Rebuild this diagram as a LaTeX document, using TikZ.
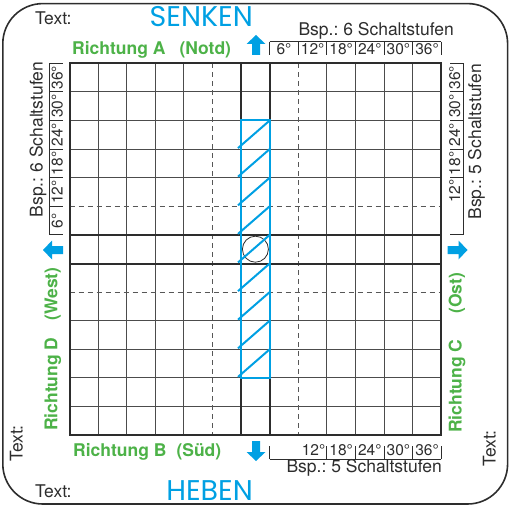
\documentclass[tikz,border=0pt]{standalone}
\usepackage{fontspec}
\setmainfont{TeX Gyre Heros}
\newfontfamily\roundfont{Poppins}
\definecolor{skyb}{RGB}{0,160,227}
\definecolor{grn}{RGB}{77,178,72}
\definecolor{ink}{RGB}{45,45,45}
\def\GX{69.5}
\def\GY{63.3}
\def\CW{28.6}
\frenchspacing
\tikzset{
  txt/.style={font=\fontsize{17.5}{20}\selectfont, text=ink, inner sep=0pt},
  dirlbl/.style={font=\fontsize{17.5}{20}\selectfont\bfseries, text=grn, inner sep=0pt},
  slbl/.style={font=\fontsize{15.5}{18}\selectfont, text=ink, inner sep=0pt},
  bigword/.style={font=\roundfont\fontsize{28.5}{31}\selectfont, text=skyb, inner sep=0pt},
  gthin/.style={draw=ink!85, line width=1pt},
  gthick/.style={draw=ink, line width=2pt},
  gdash/.style={draw=ink!80, line width=1pt, dash pattern=on 5pt off 4pt},
  hatch/.style={draw=skyb, line width=2pt},
  sline/.style={draw=ink, line width=0.9pt},
  frame/.style={draw=ink, line width=1.6pt, rounded corners=40pt},
  barrow/.pic={\fill[skyb] (0,-10) -- (9.5,-1) -- (4,-1) -- (4,10) -- (-4,10) -- (-4,-1) -- (-9.5,-1) -- cycle;}
}
\begin{document}
\begin{tikzpicture}[x=1pt,y=-1pt]
\useasboundingbox (0,0) rectangle (509,510);
% outer frame
\draw[frame] (2.8,3.6) rectangle (507.6,504);
% grid thin
\foreach \i in {1,2,3,4,9,10,11,12} {
  \draw[gthin] ({\GX+\i*\CW},\GY) -- ({\GX+\i*\CW},{\GY+13*\CW});
  \draw[gthin] (\GX,{\GY+\i*\CW}) -- ({\GX+13*\CW},{\GY+\i*\CW});
}
\foreach \i in {5,8} {
  \draw[gdash] ({\GX+\i*\CW},\GY) -- ({\GX+\i*\CW},{\GY+13*\CW});
  \draw[gdash] (\GX,{\GY+\i*\CW}) -- ({\GX+13*\CW},{\GY+\i*\CW});
}
\foreach \i in {6,7} {
  \draw[gthick] ({\GX+\i*\CW},\GY) -- ({\GX+\i*\CW},{\GY+13*\CW});
  \draw[gthick] (\GX,{\GY+\i*\CW}) -- ({\GX+13*\CW},{\GY+\i*\CW});
}
\draw[gthick] (\GX,\GY) rectangle ({\GX+13*\CW},{\GY+13*\CW});
% centre circle
\draw[ink, line width=0.8pt] ({\GX+6.5*\CW},{\GY+6.5*\CW}) circle[radius=13pt];
% blue hatched bar
\draw[hatch] ({\GX+6*\CW},{\GY+2*\CW}) rectangle ({\GX+7*\CW},{\GY+11*\CW});
\foreach \k in {2,...,10} {
  \draw[hatch] ({\GX+7*\CW},{\GY+\k*\CW}) -- ++(-31.7,27.6);
}
% top scale
\draw[sline] ({\GX+7*\CW},41.7) -- ({\GX+13*\CW},41.7);
\foreach \i in {7,...,13} { \draw[sline] ({\GX+\i*\CW},41.7) -- ++(0,13.5); }
\foreach \i/\t in {7/6,8/12,9/18,10/24,11/30,12/36} {
  \node[slbl, anchor=base] (top\i) at ({\GX+\i*\CW+\CW/2},55) {\t°};
}
\node[txt, anchor=base east] (topbsp) at (454,36) {Bsp.: 6 Schaltstufen};
% bottom scale
\draw[sline] ({\GX+7*\CW},459) -- ({\GX+13*\CW},459);
\foreach \i in {7,9,10,11,12,13} { \draw[sline] ({\GX+\i*\CW},459) -- ++(0,-13.5); }
\node[slbl, anchor=base east] (bot7) at ({\GX+9*\CW-1.5},455) {12°};
\foreach \i/\t in {9/18,10/24,11/30,12/36} {
  \node[slbl, anchor=base] (bot\i) at ({\GX+\i*\CW+\CW/2},455) {\t°};
}
\node[txt, anchor=base east] (botbsp) at (442,472.5) {Bsp.: 5 Schaltstufen};
% left scale
\draw[sline] (49.3,\GY) -- (49.3,{\GY+6*\CW});
\foreach \j in {0,...,6} { \draw[sline] (49.3,{\GY+\j*\CW}) -- ++(13.5,0); }
\foreach \j/\t in {5/6,4/12,3/18,2/24,1/30,0/36} {
  \node[slbl, rotate=90, anchor=base] (lft\j) at (62.6,{\GY+\j*\CW+\CW/2}) {\t°};
}
\node[txt, rotate=90, anchor=base east] (lftbsp) at (42.7,61.7) {Bsp.: 6 Schaltstufen};
% right scale
\draw[sline] (463.7,\GY) -- (463.7,{\GY+6*\CW});
\foreach \j in {0,1,2,3,4,6} { \draw[sline] (463.7,{\GY+\j*\CW}) -- ++(-13.5,0); }
\foreach \j/\t in {3/18,2/24,1/30,0/36} {
  \node[slbl, rotate=90, anchor=base] (rgt\j) at (460,{\GY+\j*\CW+\CW/2}) {\t°};
}
\node[slbl, rotate=90, anchor=base east] (rgt4) at (460,{\GY+4*\CW+1.5}) {12°};
\node[txt, rotate=90, anchor=base east] (rgtbsp) at (481,64) {Bsp.: 5 Schaltstufen};
% direction labels
\node[dirlbl, anchor=base west] (dirA) at (72,55) {Richtung A\hspace{14pt}(Notd)};
\node[dirlbl, anchor=base west] (dirB) at (73,456) {Richtung B\hspace{10pt}(Süd)};
\node[dirlbl, rotate=90, anchor=base west] (dirD) at (57.3,431) {Richtung D\hspace{17pt}(West)};
\node[dirlbl, rotate=90, anchor=base west] (dirC) at (461.7,433) {Richtung C\hspace{26pt}(Ost)};
% arrows
\pic at (256,45) {barrow};
\pic[rotate=180] at (256,451) {barrow};
\pic[rotate=90] at (53,250) {barrow};
\pic[rotate=-90] at (457.5,250) {barrow};
% big words
\node[bigword, anchor=base east] (senken) at (253,26.7) {SENKEN};
\node[bigword, anchor=base east] (heben) at (253,500) {HEBEN};
% Text: labels
\node[txt, anchor=base west] (txttop) at (35,25) {Text:};
\node[txt, anchor=base west] (txtbot) at (35,497.3) {Text:};
\node[txt, rotate=90, anchor=base west] (txtleft) at (22.7,462) {Text:};
\node[txt, rotate=90, anchor=base west] (txtright) at (495.7,467) {Text:};
\end{tikzpicture}
\end{document}
